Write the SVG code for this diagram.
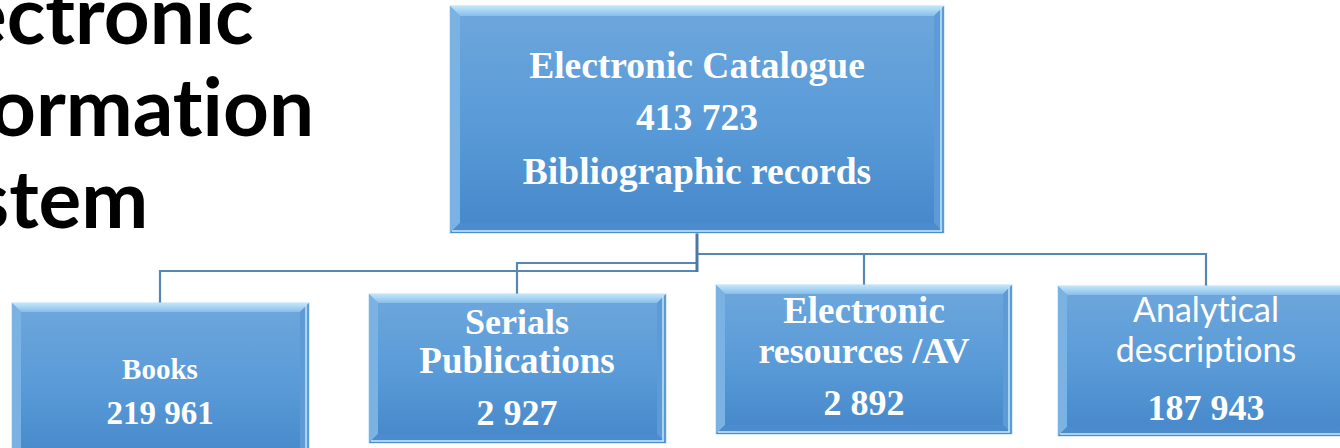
<svg xmlns="http://www.w3.org/2000/svg" width="1340" height="448" viewBox="0 0 1340 448">
<defs>
<linearGradient id="fill" x1="0" y1="0" x2="0" y2="1">
<stop offset="0" stop-color="#6EA7DC"/>
<stop offset="0.5" stop-color="#5A9BD8"/>
<stop offset="1" stop-color="#4687CA"/>
</linearGradient>
<linearGradient id="topb" x1="0" y1="0" x2="0" y2="1">
<stop offset="0" stop-color="#C2E6FB"/>
<stop offset="1" stop-color="#88BEEA"/>
</linearGradient>
<style>
.box{fill:url(#fill);stroke:#B9D9F2;stroke-width:1}
.bt{fill:url(#topb)}
.bl{fill:#7BB2E4}
.br{fill:#5E9BD6}
.bb{fill:#4C8CCD}
.hl{fill:none;stroke:#C6EBFD;stroke-width:1.4}
.ln{fill:none;stroke:#5787B3;stroke-width:2.2}
.lm{fill:none;stroke:#4A79A5;stroke-width:3}
.t{font-family:"Liberation Serif","Times New Roman",serif;font-weight:bold;fill:#FFFFFF;text-anchor:middle}
.s{font-family:Lato,"Open Sans",sans-serif;fill:#FFFFFF;text-anchor:middle;font-variant-ligatures:none}
.title{font-family:Lato,"Open Sans",sans-serif;font-weight:bold;fill:#000000;font-size:80px;font-variant-ligatures:none}
</style>
</defs>
<rect width="1340" height="448" fill="#FFFFFF"/>

<g id="title">
<text class="title" x="-36" y="44">ectronic</text>
<text class="title" x="-10" y="136">ormation</text>
<text class="title" x="-26" y="228">stem</text>
</g>

<g id="connectors">
<path class="ln" d="M697,271 H160 V303 M697,263 H517 V294 M697,254 H1206 V286 M864,254 V285"/>
<path class="lm" d="M697,233 V272"/>
</g>

<g id="catalogue" transform="translate(450,6)">
<rect class="box" x="0" y="0" width="494" height="227"/>
<polygon class="bt" points="0,0 494,0 484,10 10,10"/>
<polygon class="bl" points="0,0 10,10 10,217 0,227"/>
<polygon class="br" points="494,0 494,227 484,217 484,10"/>
<polygon class="bb" points="0,227 10,217 484,217 494,227"/>
<path class="hl" d="M491,2 V225 M2,225 H492"/>
<text class="t" x="247" y="72" font-size="37.5">Electronic Catalogue</text>
<text class="t" x="247" y="124" font-size="37.5">413 723</text>
<text class="t" x="247" y="178" font-size="37.5">Bibliographic records</text>
</g>

<g id="books" transform="translate(12,303)">
<rect class="box" x="0" y="0" width="297" height="160"/>
<polygon class="bt" points="0,0 297,0 288,9 9,9"/>
<polygon class="bl" points="0,0 9,9 9,151 0,160"/>
<polygon class="br" points="297,0 297,160 288,151 288,9"/>
<path class="hl" d="M294,2 V160"/>
<text class="t" x="148" y="76" font-size="29">Books</text>
<text class="t" x="148" y="121" font-size="33">219 961</text>
</g>

<g id="serials" transform="translate(369,294)">
<rect class="box" x="0" y="0" width="297" height="149"/>
<polygon class="bt" points="0,0 297,0 288,9 9,9"/>
<polygon class="bl" points="0,0 9,9 9,140 0,149"/>
<polygon class="br" points="297,0 297,149 288,140 288,9"/>
<polygon class="bb" points="0,149 9,140 288,140 297,149"/>
<path class="hl" d="M294,2 V147 M2,147 H295"/>
<text class="t" x="148" y="40" font-size="36">Serials</text>
<text class="t" x="148" y="79" font-size="37">Publications</text>
<text class="t" x="148" y="131" font-size="36">2 927</text>
</g>

<g id="electronic" transform="translate(716,285)">
<rect class="box" x="0" y="0" width="296" height="149"/>
<polygon class="bt" points="0,0 296,0 287,9 9,9"/>
<polygon class="bl" points="0,0 9,9 9,140 0,149"/>
<polygon class="br" points="296,0 296,149 287,140 287,9"/>
<polygon class="bb" points="0,149 9,140 287,140 296,149"/>
<path class="hl" d="M293,2 V147 M2,147 H294"/>
<text class="t" x="148" y="38" font-size="37">Electronic</text>
<text class="t" x="148" y="78" font-size="36">resources /AV</text>
<text class="t" x="148" y="130" font-size="36">2 892</text>
</g>

<g id="analytical" transform="translate(1058,286)">
<rect class="box" x="0" y="0" width="296" height="150"/>
<polygon class="bt" points="0,0 296,0 287,9 9,9"/>
<polygon class="bl" points="0,0 9,9 9,141 0,150"/>
<polygon class="bb" points="0,150 9,141 287,141 296,150"/>
<path class="hl" d="M2,148 H294"/>
<text class="s" x="148" y="36" font-size="34">Analytical</text>
<text class="s" x="148" y="76" font-size="34">descriptions</text>
<text class="t" x="148" y="134" font-size="36">187 943</text>
</g>
</svg>
